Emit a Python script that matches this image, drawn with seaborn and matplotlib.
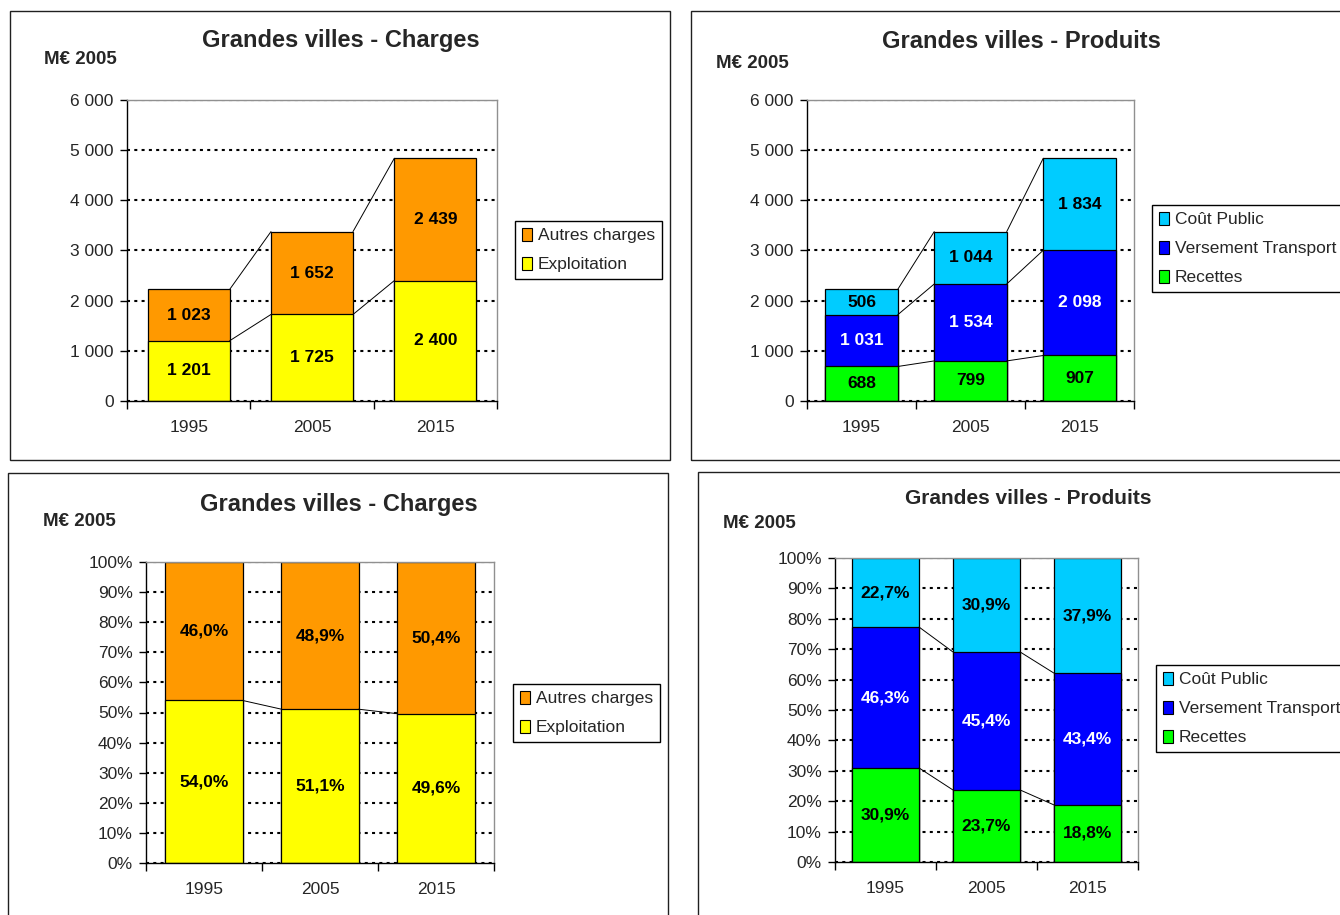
import numpy as np
import matplotlib
matplotlib.use("Agg")
import matplotlib.pyplot as plt
import matplotlib.ticker as mticker
from matplotlib.patches import Patch, Rectangle
import seaborn as sns

# ---- data ----
years = ["1995", "2005", "2015"]

# Charges, M€ 2005
exploitation = [1201, 1725, 2400]
autres_charges = [1023, 1652, 2439]

# Produits, M€ 2005
recettes = [688, 799, 907]
versement_transport = [1031, 1534, 2098]
cout_public = [506, 1044, 1834]

# shares in %
exploitation_pct = [54.0, 51.1, 49.6]
autres_charges_pct = [46.0, 48.9, 50.4]
recettes_pct = [30.9, 23.7, 18.8]
versement_transport_pct = [46.3, 45.4, 43.4]
cout_public_pct = [22.7, 30.9, 37.9]

ORANGE = "#FF9900"
YELLOW = "#FFFF00"
CYAN = "#00CCFF"
BLUE = "#0000FF"
GREEN = "#00FF00"

W, H = 1340, 915
BAR_W = 0.665

sns.set_style("white")
plt.rcParams['font.family'] = ['Liberation Sans', 'DejaVu Sans']

fig = plt.figure(figsize=(W / 100, H / 100), dpi=100)
fig.patch.set_facecolor("white")


def px_axes(left, top, right, bottom):
    return fig.add_axes([left / W, 1 - bottom / H, (right - left) / W, (bottom - top) / H])


def px_box(x0, y0, x1, y1):
    fig.add_artist(Rectangle((x0 / W, 1 - y1 / H), (x1 - x0) / W, (y1 - y0) / H,
                             transform=fig.transFigure, fill=False,
                             edgecolor="#202020", linewidth=1.0))


def fmt_num(v):
    return f"{int(v):,}".replace(",", " ")


def fmt_pct(v):
    return f"{v:.1f}%".replace(".", ",")


def draw_stack(ax, layers, colors, txt_colors, fmt, pct=False):
    vals = np.array(layers, dtype=float)
    if pct:
        heights = vals / vals.sum(axis=0) * 100
    else:
        heights = vals
    cum = np.cumsum(heights, axis=0)
    # draw cumulative bars from the top layer down, so lower ones cover
    for k in range(len(layers) - 1, -1, -1):
        sns.barplot(x=years, y=cum[k], color=colors[k], width=BAR_W, saturation=1,
                    edgecolor="black", linewidth=0.9, errorbar=None, ax=ax, zorder=2)
    # excel style series lines
    for k in range(len(layers)):
        if pct and k == len(layers) - 1:
            continue
        for i in range(len(years) - 1):
            ax.plot([i + BAR_W / 2, i + 1 - BAR_W / 2], [cum[k][i], cum[k][i + 1]],
                    color="black", linewidth=0.7, zorder=2.5)
    # labels
    for k in range(len(layers)):
        for i in range(len(years)):
            ax.text(i, cum[k][i] - heights[k][i] / 2, fmt(vals[k][i]),
                    ha="center", va="center", fontsize=12.5, fontweight="bold",
                    color=txt_colors[k], zorder=3)


def style_axes(ax, ymax, step, pct=False):
    ax.set_ylim(0, ymax)
    ax.set_xlim(-0.5, len(years) - 0.5)
    ax.set_xlabel("")
    ax.set_ylabel("")
    ax.yaxis.set_major_locator(mticker.MultipleLocator(step))
    if pct:
        ax.yaxis.set_major_formatter(mticker.FuncFormatter(lambda v, p: f"{int(round(v))}%"))
    else:
        ax.yaxis.set_major_formatter(mticker.FuncFormatter(lambda v, p: fmt_num(v)))
    ax.yaxis.grid(True, color="black", linestyle=(0, (1.45, 2.05)), linewidth=1.5)
    ax.xaxis.grid(False)
    ax.set_axisbelow(True)
    for s in ["left", "bottom"]:
        ax.spines[s].set_color("black")
        ax.spines[s].set_linewidth(1.0)
    for s in ["top", "right"]:
        ax.spines[s].set_visible(True)
        ax.spines[s].set_color("#909090")
        ax.spines[s].set_linewidth(1.0)
    ax.tick_params(axis="y", direction="out", length=5, width=1, color="black",
                   labelsize=12.5, pad=4.5, left=True)
    ax.set_xticks(range(len(years)))
    ax.set_xticklabels(years)
    ax.set_xticks(np.arange(-0.5, len(years)), minor=True)
    ax.tick_params(axis="x", which="major", length=0, labelsize=12.5, pad=14)
    ax.tick_params(axis="x", which="minor", direction="out", length=6, width=1,
                   color="black", bottom=True)


def add_legend(ax, labels, colors, x, y):
    handles = [Patch(facecolor=c, edgecolor="black", linewidth=0.8) for c in colors]
    leg = ax.legend(handles, labels, loc="upper left", bbox_to_anchor=(x / W, 1 - y / H),
                    bbox_transform=fig.transFigure, frameon=True, fancybox=False,
                    edgecolor="black", framealpha=1, borderaxespad=0, fontsize=12.5,
                    handlelength=0.6, handleheight=0.75, handletextpad=0.3,
                    borderpad=0.4, labelspacing=0.78)
    leg.get_frame().set_linewidth(1.0)


def add_titles(title, cx, cy, ux, uy, size=17):
    fig.text(cx / W, 1 - cy / H, title, ha="center", va="center",
             fontsize=size, fontweight="bold")
    fig.text(ux / W, 1 - uy / H, "M€ 2005", ha="left", va="center",
             fontsize=13.5, fontweight="bold")


# ---- panel boxes ----
px_box(10, 11, 670, 460)
px_box(691, 11, 1345, 460)
px_box(8, 473, 668, 920)
px_box(698, 472, 1345, 920)

# ---- top left : charges M€ ----
ax1 = px_axes(127, 100, 497, 401)
draw_stack(ax1, [exploitation, autres_charges], [YELLOW, ORANGE],
           ["black", "black"], fmt_num)
style_axes(ax1, 6000, 1000)
add_legend(ax1, ["Autres charges", "Exploitation"], [ORANGE, YELLOW], 515, 221)
add_titles("Grandes villes - Charges", 341, 41, 44, 59)

# ---- top right : produits M€ ----
ax2 = px_axes(807, 100, 1134, 401)
draw_stack(ax2, [recettes, versement_transport, cout_public], [GREEN, BLUE, CYAN],
           ["black", "white", "black"], fmt_num)
style_axes(ax2, 6000, 1000)
add_legend(ax2, ["Coût Public", "Versement Transport", "Recettes"],
           [CYAN, BLUE, GREEN], 1152, 205)
add_titles("Grandes villes - Produits", 1021, 41, 716, 63)

# ---- bottom left : charges % ----
ax3 = px_axes(146, 562, 494, 863)
draw_stack(ax3, [exploitation_pct, autres_charges_pct], [YELLOW, ORANGE],
           ["black", "black"], fmt_pct, pct=True)
style_axes(ax3, 100, 10, pct=True)
add_legend(ax3, ["Autres charges", "Exploitation"], [ORANGE, YELLOW], 513, 684)
add_titles("Grandes villes - Charges", 339, 504, 43, 521)

# ---- bottom right : produits % ----
ax4 = px_axes(835, 558, 1138, 862)
draw_stack(ax4, [recettes_pct, versement_transport_pct, cout_public_pct],
           [GREEN, BLUE, CYAN], ["black", "white", "black"], fmt_pct, pct=True)
style_axes(ax4, 100, 10, pct=True)
add_legend(ax4, ["Coût Public", "Versement Transport", "Recettes"],
           [CYAN, BLUE, GREEN], 1156, 665)
add_titles("Grandes villes - Produits", 1028, 499, 723, 524, size=15)

fig.savefig("out.png", dpi=100)
